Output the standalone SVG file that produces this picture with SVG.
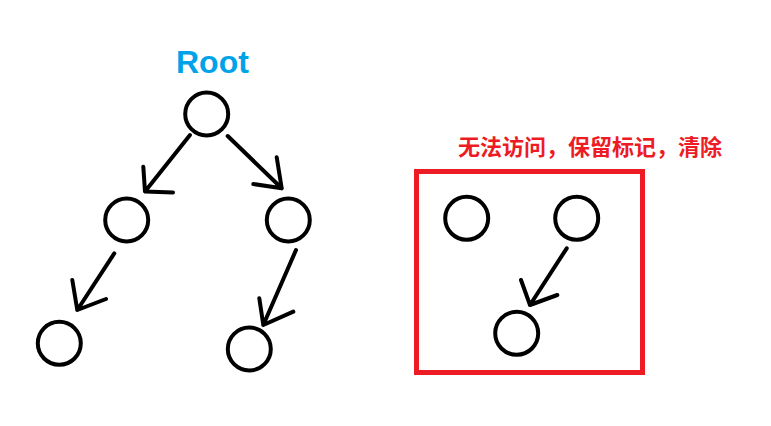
<svg xmlns="http://www.w3.org/2000/svg" width="771" height="426" viewBox="0 0 771 426">
<style>
.n{fill:none;stroke:#000;stroke-width:4}
.e{fill:none;stroke:#000;stroke-width:4;stroke-linecap:round;stroke-linejoin:round}
.t{font-family:"Liberation Sans","Noto Sans CJK SC",sans-serif;font-weight:bold}
</style>
<rect width="771" height="426" fill="#fff"/>
<text class="t" x="176" y="73" font-size="32" fill="#00a2e8">Root</text>
<g id="root"><circle class="n" cx="206.7" cy="114" r="21.5"/></g>
<g id="n1"><circle class="n" cx="126.7" cy="220" r="21.5"/></g>
<g id="n2"><circle class="n" cx="288.3" cy="220" r="21.5"/></g>
<g id="n3"><circle class="n" cx="59.3" cy="343.3" r="21.5"/></g>
<g id="n4"><circle class="n" cx="249.3" cy="349" r="21.5"/></g>
<g id="garbage">
<rect x="416.5" y="171.5" width="226" height="201" fill="none" stroke="#ed1c24" stroke-width="5"/>
<text class="t" x="458" y="155" font-size="22" fill="#ed1c24" textLength="264" lengthAdjust="spacing">无法访问，保留标记，清除</text>
</g>
<g id="g1"><circle class="n" cx="466.7" cy="218.3" r="21.5"/></g>
<g id="g2"><circle class="n" cx="576.7" cy="218.3" r="21.5"/></g>
<g id="g3"><circle class="n" cx="516.7" cy="333.3" r="21.5"/></g>
<g id="connectors">
<path class="e" d="M190,135 L145,191.5 M143.3,166.7 L145,191.5 L173,192.5"/>
<path class="e" d="M227.7,136 L281.7,188.3 M276.7,157.3 L281.7,188.3 L253.3,184"/>
<path class="e" d="M114.3,253.3 L77.3,310 M72.3,280 L77.3,310 L106,299"/>
<path class="e" d="M296,250 L263.3,325 M259.3,298.3 L263.3,325 L293.3,311.7"/>
<path class="e" d="M566.7,248.3 L530,305 M521,280 L530,305 L557.3,295"/>
</g>
</svg>
